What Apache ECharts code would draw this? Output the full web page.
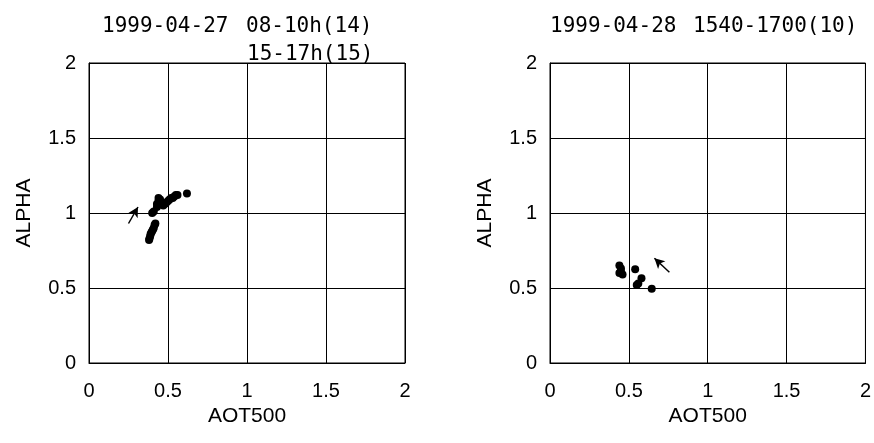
<!DOCTYPE html>
<html><head><meta charset="utf-8">
<script src="https://cdn.jsdelivr.net/npm/echarts@6/dist/echarts.min.js"></script>
<style>html,body{margin:0;padding:0;background:#fff}#c{width:874px;height:443px}</style>
</head><body><div id="c"></div>
<script>
// Left panel: 1999-04-27 (08-10h: 14 pts, 15-17h: 15 pts)
const leftMorningX = [0.38,0.383,0.387,0.39,0.395,0.40,0.405,0.41,0.415,0.42,0.40,0.41,0.43,0.62];
const leftMorningY = [0.82,0.83,0.845,0.86,0.87,0.88,0.89,0.90,0.92,0.93,1.00,1.01,1.04,1.13];
const leftAfternoonX = [0.43,0.44,0.44,0.45,0.46,0.47,0.48,0.49,0.50,0.51,0.52,0.53,0.54,0.55,0.56];
const leftAfternoonY = [1.06,1.08,1.10,1.09,1.06,1.05,1.06,1.07,1.08,1.09,1.10,1.10,1.11,1.12,1.12];
// Right panel: 1999-04-28 1540-1700 (10 pts)
const rightX = [0.44,0.45,0.45,0.46,0.44,0.54,0.58,0.56,0.55,0.645];
const rightY = [0.65,0.63,0.61,0.59,0.60,0.625,0.565,0.53,0.52,0.495];
// Arrow annotations [from, to]
const leftArrow = [[0.25,0.93],[0.31,1.04]];
const rightArrow = [[0.757,0.605],[0.662,0.698]];
// Axis ticks
const axisMin = 0, axisMax = 2, axisStep = 0.5;
const xName = 'AOT500', yName = 'ALPHA';
const titles = [
  {text:'1999-04-27', left:102, top:16},
  {text:'08-10h(14)', left:246, top:16},
  {text:'15-17h(15)', left:247, top:44},
  {text:'1999-04-28', left:550, top:16},
  {text:'1540-1700(10)', left:693, top:16}
];

const zip = (a,b)=>a.map((v,i)=>[v,b[i]]);
const font = 'Liberation Sans, Arial, sans-serif';
function xAxis(gi){return {gridIndex:gi,type:'value',min:axisMin,max:axisMax,interval:axisStep,
  name:xName,nameLocation:'middle',nameGap:43,nameTextStyle:{fontFamily:font,fontSize:21,color:'#000'},
  axisLine:{show:true,lineStyle:{color:'#000',width:1}},axisTick:{show:false},
  axisLabel:{margin:18,fontFamily:font,fontSize:20,color:'#000',formatter:v=>String(v)},
  splitLine:{show:true,lineStyle:{color:'#000',width:1}}};}
function yAxis(gi){return {gridIndex:gi,type:'value',min:axisMin,max:axisMax,interval:axisStep,
  name:yName,nameLocation:'middle',nameGap:54,nameRotate:90,nameTextStyle:{fontFamily:font,fontSize:21,color:'#000'},
  axisLine:{show:true,lineStyle:{color:'#000',width:1}},axisTick:{show:false},
  axisLabel:{margin:13,fontFamily:font,fontSize:20,color:'#000',formatter:v=>String(v)},
  splitLine:{show:true,lineStyle:{color:'#000',width:1}}};}
function arrowML(a){return {silent:true,symbol:['none','arrow'],symbolSize:[8,10],label:{show:false},
  lineStyle:{color:'#000',width:1.5,type:'solid'},
  data:[[{coord:a[0]},{coord:a[1]}]]};}
const dot = {type:'scatter',symbol:'circle',symbolSize:8,itemStyle:{color:'#000',opacity:1}};

const chart = echarts.init(document.getElementById('c'),null,{renderer:'canvas'});
chart.setOption({
  animation:false,
  backgroundColor:'#fff',
  title:titles.map(t=>({text:t.text,left:t.left,top:t.top,padding:0,
    textStyle:{fontFamily:'DejaVu Sans Mono, monospace',fontSize:21,fontWeight:'normal',color:'#000'}})),
  grid:[
    {left:89,top:63,width:316,height:300,show:true,borderColor:'#000',borderWidth:1},
    {left:550,top:63,width:317,height:300,show:true,borderColor:'#000',borderWidth:1}
  ],
  xAxis:[xAxis(0),xAxis(1)],
  yAxis:[yAxis(0),yAxis(1)],
  series:[
    Object.assign({},dot,{name:'08-10h',xAxisIndex:0,yAxisIndex:0,data:zip(leftMorningX,leftMorningY),markLine:arrowML(leftArrow)}),
    Object.assign({},dot,{name:'15-17h',xAxisIndex:0,yAxisIndex:0,data:zip(leftAfternoonX,leftAfternoonY)}),
    Object.assign({},dot,{name:'1540-1700',xAxisIndex:1,yAxisIndex:1,data:zip(rightX,rightY),markLine:arrowML(rightArrow)})
  ]
});
</script></body></html>
